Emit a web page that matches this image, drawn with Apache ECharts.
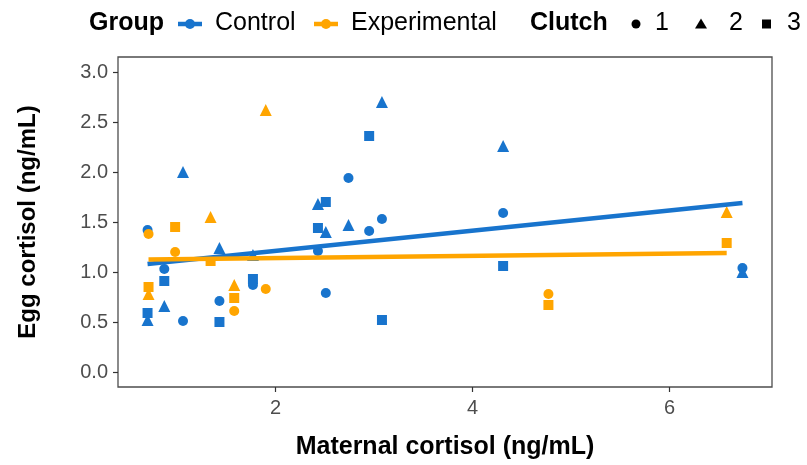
<!DOCTYPE html>
<html>
<head>
<meta charset="utf-8">
<script src="https://cdn.jsdelivr.net/npm/echarts@6.0.0/dist/echarts.min.js"></script>
<style>
  html, body { margin: 0; padding: 0; background: #ffffff; }
  #chart { width: 807px; height: 465px; }
</style>
</head>
<body>
<div id="chart"></div>
<script>
// Maternal cortisol per mother, egg cortisol per clutch (null = no clutch)
const controlMaternal = [0.70, 0.87, 1.06, 1.43, 1.77, 2.43, 2.51, 2.74, 2.95, 3.08, 4.31, 6.74];
const controlClutch1  = [1.42, 1.03, 0.51, 0.71, 0.87, 1.21, 0.79, 1.94, 1.41, 1.53, 1.59, 1.04];
const controlClutch2  = [0.52, 0.66, 2.00, 1.24, 1.17, 1.68, 1.40, 1.47, null, 2.70, 2.26, 1.00];
const controlClutch3  = [0.59, 0.91, null, 0.50, 0.93, 1.44, 1.70, null, 2.36, 0.52, 1.06, null];

const expMaternal = [0.71, 0.98, 1.34, 1.58, 1.90, 4.77, 6.58];
const expClutch1  = [1.38, 1.20, null, 0.61, 0.83, 0.78, null];
const expClutch2  = [0.78, null, 1.55, 0.87, 2.62, null, 1.60];
const expClutch3  = [0.85, 1.45, 1.11, 0.74, null, 0.67, 1.29];

// Linear fits per group (end points)
const controlFitX = [0.70, 6.74];
const controlFitY = [1.08, 1.69];
const expFitX = [0.71, 6.58];
const expFitY = [1.125, 1.19];

// Axis ticks
const xTicks = [2, 4, 6];
const yTicks = [0, 0.5, 1, 1.5, 2, 2.5, 3];

const groupNames = ['Control', 'Experimental'];
const clutchNames = ['1', '2', '3'];

const BLUE = '#1874CD';
const ORANGE = '#FFA500';
const FONT = 'Liberation Sans, Arial, sans-serif';
const clutchSymbols = ['circle', 'triangle', 'rect'];
const clutchSizes = [10, 12, 10];

function pairs(xs, ys) {
  const out = [];
  xs.forEach((x, i) => { if (ys[i] !== null) out.push([x, ys[i]]); });
  return out;
}

const groups = [
  { name: groupNames[0], color: BLUE, xs: controlMaternal, clutches: [controlClutch1, controlClutch2, controlClutch3], fx: controlFitX, fy: controlFitY },
  { name: groupNames[1], color: ORANGE, xs: expMaternal, clutches: [expClutch1, expClutch2, expClutch3], fx: expFitX, fy: expFitY }
];

const series = [];
groups.forEach(g => {
  g.clutches.forEach((ys, ci) => {
    series.push({
      type: 'scatter',
      name: g.name + ' clutch ' + clutchNames[ci],
      data: pairs(g.xs, ys),
      symbol: clutchSymbols[ci],
      symbolSize: clutchSizes[ci],
      itemStyle: { color: g.color, opacity: 1 },
      z: 2,
      silent: true
    });
  });
});
groups.forEach((g, gi) => {
  series.push({
    type: 'line',
    name: g.name + ' fit',
    data: pairs(g.fx, g.fy),
    showSymbol: false,
    lineStyle: { color: g.color, width: 4.5, cap: 'butt' },
    z: 3 + gi,
    silent: true
  });
});

// Legend drawn as graphic elements
const LY = 24;
const legendText = (x, text, bold) => ({
  type: 'text', left: x, top: LY - 13,
  style: { text: text, font: (bold ? 'bold ' : '') + '25px ' + FONT, fill: '#000000' }
});
const groupKey = (cx, color) => ([
  { type: 'line', shape: { x1: cx - 12, y1: LY, x2: cx + 12, y2: LY }, style: { stroke: color, lineWidth: 4.5 } },
  { type: 'circle', shape: { cx: cx, cy: LY, r: 5 }, style: { fill: color } }
]);

const graphics = [
  legendText(89, 'Group', true),
  ...groupKey(190, BLUE),
  legendText(215, groupNames[0], false),
  ...groupKey(326, ORANGE),
  legendText(351, groupNames[1], false),
  legendText(530, 'Clutch', true),
  { type: 'circle', shape: { cx: 636, cy: LY, r: 4.5 }, style: { fill: '#000' } },
  legendText(655, clutchNames[0], false),
  { type: 'polygon', shape: { points: [[701, LY - 5.5], [707, LY + 4.5], [695, LY + 4.5]] }, style: { fill: '#000' } },
  legendText(729, clutchNames[1], false),
  { type: 'rect', shape: { x: 762, y: LY - 4.5, width: 9, height: 9 }, style: { fill: '#000' } },
  legendText(787, clutchNames[2], false)
];

const chart = echarts.init(document.getElementById('chart'), null, { renderer: 'canvas' });
chart.setOption({
  animation: false,
  backgroundColor: '#ffffff',
  grid: {
    left: 118, right: 35, top: 57, bottom: 74,
    show: true, borderColor: '#4d4d4d', borderWidth: 1.3, backgroundColor: 'transparent'
  },
  xAxis: {
    type: 'value',
    min: 0.40, max: 7.04,
    name: 'Maternal cortisol (ng/mL)',
    nameLocation: 'middle',
    nameGap: 48,
    nameTextStyle: { fontFamily: FONT, fontWeight: 'bold', fontSize: 25, color: '#000' },
    axisLine: { show: false, onZero: false },
    axisTick: { show: true, length: 5, lineStyle: { color: '#333333', width: 1.2 }, customValues: xTicks },
    axisLabel: { show: true, margin: 11, fontFamily: FONT, fontSize: 20, color: '#4D4D4D', customValues: xTicks, formatter: v => String(v) },
    splitLine: { show: false }
  },
  yAxis: {
    type: 'value',
    min: -0.15, max: 3.15,
    name: 'Egg cortisol (ng/mL)',
    nameLocation: 'middle',
    nameGap: 78,
    nameTextStyle: { fontFamily: FONT, fontWeight: 'bold', fontSize: 24, color: '#000' },
    axisLine: { show: false, onZero: false },
    axisTick: { show: true, length: 5, lineStyle: { color: '#333333', width: 1.2 }, customValues: yTicks },
    axisLabel: { show: true, margin: 10, fontFamily: FONT, fontSize: 20, color: '#4D4D4D', customValues: yTicks, formatter: v => Number(v).toFixed(1) },
    splitLine: { show: false }
  },
  graphic: graphics,
  series: series
});
</script>
</body>
</html>
